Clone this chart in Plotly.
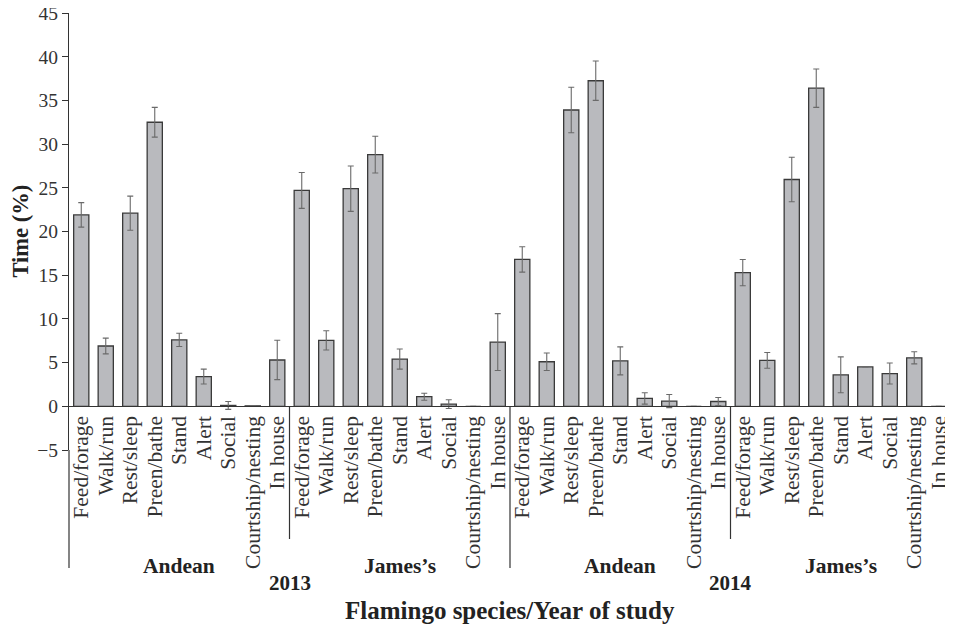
import plotly.graph_objects as go

behaviours = ["Feed/forage", "Walk/run", "Rest/sleep", "Preen/bathe", "Stand",
              "Alert", "Social", "Courtship/nesting", "In house"]
species = ["Andean", "James\u2019s"]
years = ["2013", "2014"]

andean_2013 = [21.9, 6.9, 22.1, 32.5, 7.6, 3.4, 0.1, 0.05, 5.3]
andean_2013_err = [1.4, 0.9, 1.95, 1.7, 0.75, 0.85, 0.45, None, 2.25]
james_2013 = [24.7, 7.55, 24.9, 28.8, 5.4, 1.1, 0.25, 0.0, 7.35]
james_2013_err = [2.05, 1.1, 2.6, 2.1, 1.15, 0.4, 0.5, None, 3.25]
andean_2014 = [16.8, 5.1, 33.9, 37.25, 5.2, 0.9, 0.6, 0.0, 0.55]
andean_2014_err = [1.45, 1.0, 2.6, 2.25, 1.6, 0.65, 0.75, None, 0.45]
james_2014 = [15.3, 5.25, 25.95, 36.4, 3.6, 4.5, 3.75, 5.55, 0.0]
james_2014_err = [1.5, 0.9, 2.55, 2.2, 2.05, None, 1.2, 0.7, None]

values = andean_2013 + james_2013 + andean_2014 + james_2014
errors = andean_2013_err + james_2013_err + andean_2014_err + james_2014_err
labels = behaviours * 4
n = len(values)
xs = list(range(n))

FONT = "Liberation Serif"
AX = "#333333"

fig = go.Figure()
fig.add_trace(go.Bar(
    x=xs, y=values,
    marker=dict(color="#b9babe", line=dict(color="#3a3a3a", width=1.3)),
    error_y=dict(type="data", array=[e if e is not None else float("nan") for e in errors],
                 visible=True, color="#6a6a6a", thickness=1.1, width=3),
    hoverinfo="skip",
))

ymin, ymax = -5, 45
# page has an 8px body margin, so the figure is sized to fit inside the window
fig.update_layout(
    width=945, height=618,
    margin=dict(l=61, r=2, t=5, b=176, autoexpand=False),
    paper_bgcolor="white", plot_bgcolor="white",
    bargap=0.38, showlegend=False,
    font=dict(family=FONT, color="#333333"),
    xaxis=dict(
        range=[-0.5, n - 0.5], tickvals=xs, ticktext=labels, tickangle=-90,
        anchor="free", position=(0 - ymin) / (ymax - ymin), automargin=False,
        showline=True, linecolor=AX, linewidth=1.2, ticks="",
        showgrid=False, zeroline=False,
        tickfont=dict(family=FONT, size=21.5, color="#333333"),
    ),
    yaxis=dict(
        range=[ymin, ymax], tickvals=list(range(-5, 50, 5)), automargin=False,
        ticklabeloverflow="allow",
        showline=True, linecolor=AX, linewidth=1.2,
        ticks="outside", ticklen=6, tickcolor=AX, tickwidth=1.2,
        showgrid=False, zeroline=False,
        tickfont=dict(family=FONT, size=19.5, color="#333333"),
    ),
)

def px(b):
    return (b + 0.5) / n

plot_h = 437
def py(pix):
    return (450 - pix) / plot_h

y_zero = (0 - ymin) / (ymax - ymin)
line = dict(color=AX, width=1.2)
shapes = []
shapes.append(dict(type="line", xref="paper", yref="paper", x0=0, x1=0, y0=0, y1=py(568), line=line))
shapes.append(dict(type="line", xref="paper", yref="paper", x0=1, x1=1, y0=y_zero, y1=py(568), line=line))
for b in [8.5, 26.5]:
    shapes.append(dict(type="line", xref="paper", yref="paper", x0=px(b), x1=px(b), y0=y_zero, y1=py(539), line=line))
shapes.append(dict(type="line", xref="paper", yref="paper", x0=px(17.5), x1=px(17.5), y0=y_zero, y1=py(568), line=line))
fig.update_layout(shapes=shapes)

ann = []
for k in range(4):
    ann.append(dict(x=9 * k + 4, xref="x", y=py(566), yref="paper", text="<b>%s</b>" % species[k % 2],
                    showarrow=False, font=dict(family=FONT, size=21.5, color="#222222"),
                    xanchor="center", yanchor="middle"))
for j in range(2):
    ann.append(dict(x=18 * j + 8.5, xref="x", y=py(583), yref="paper", text="<b>%s</b>" % years[j],
                    showarrow=False, font=dict(family=FONT, size=21, color="#222222"),
                    xanchor="center", yanchor="middle"))
ann.append(dict(x=0.5, xref="paper", y=py(610), yref="paper", text="<b>Flamingo species/Year of study</b>",
                showarrow=False, font=dict(family=FONT, size=25, color="#222222"),
                xanchor="center", yanchor="middle"))
ann.append(dict(x=(20 - 69) / 882, xref="paper", y=0.5, yref="paper", text="<b>Time (%)</b>",
                textangle=-90, showarrow=False, font=dict(family=FONT, size=22.5, color="#222222"),
                xanchor="center", yanchor="middle"))
fig.update_layout(annotations=ann)

fig.write_html("out.html")
